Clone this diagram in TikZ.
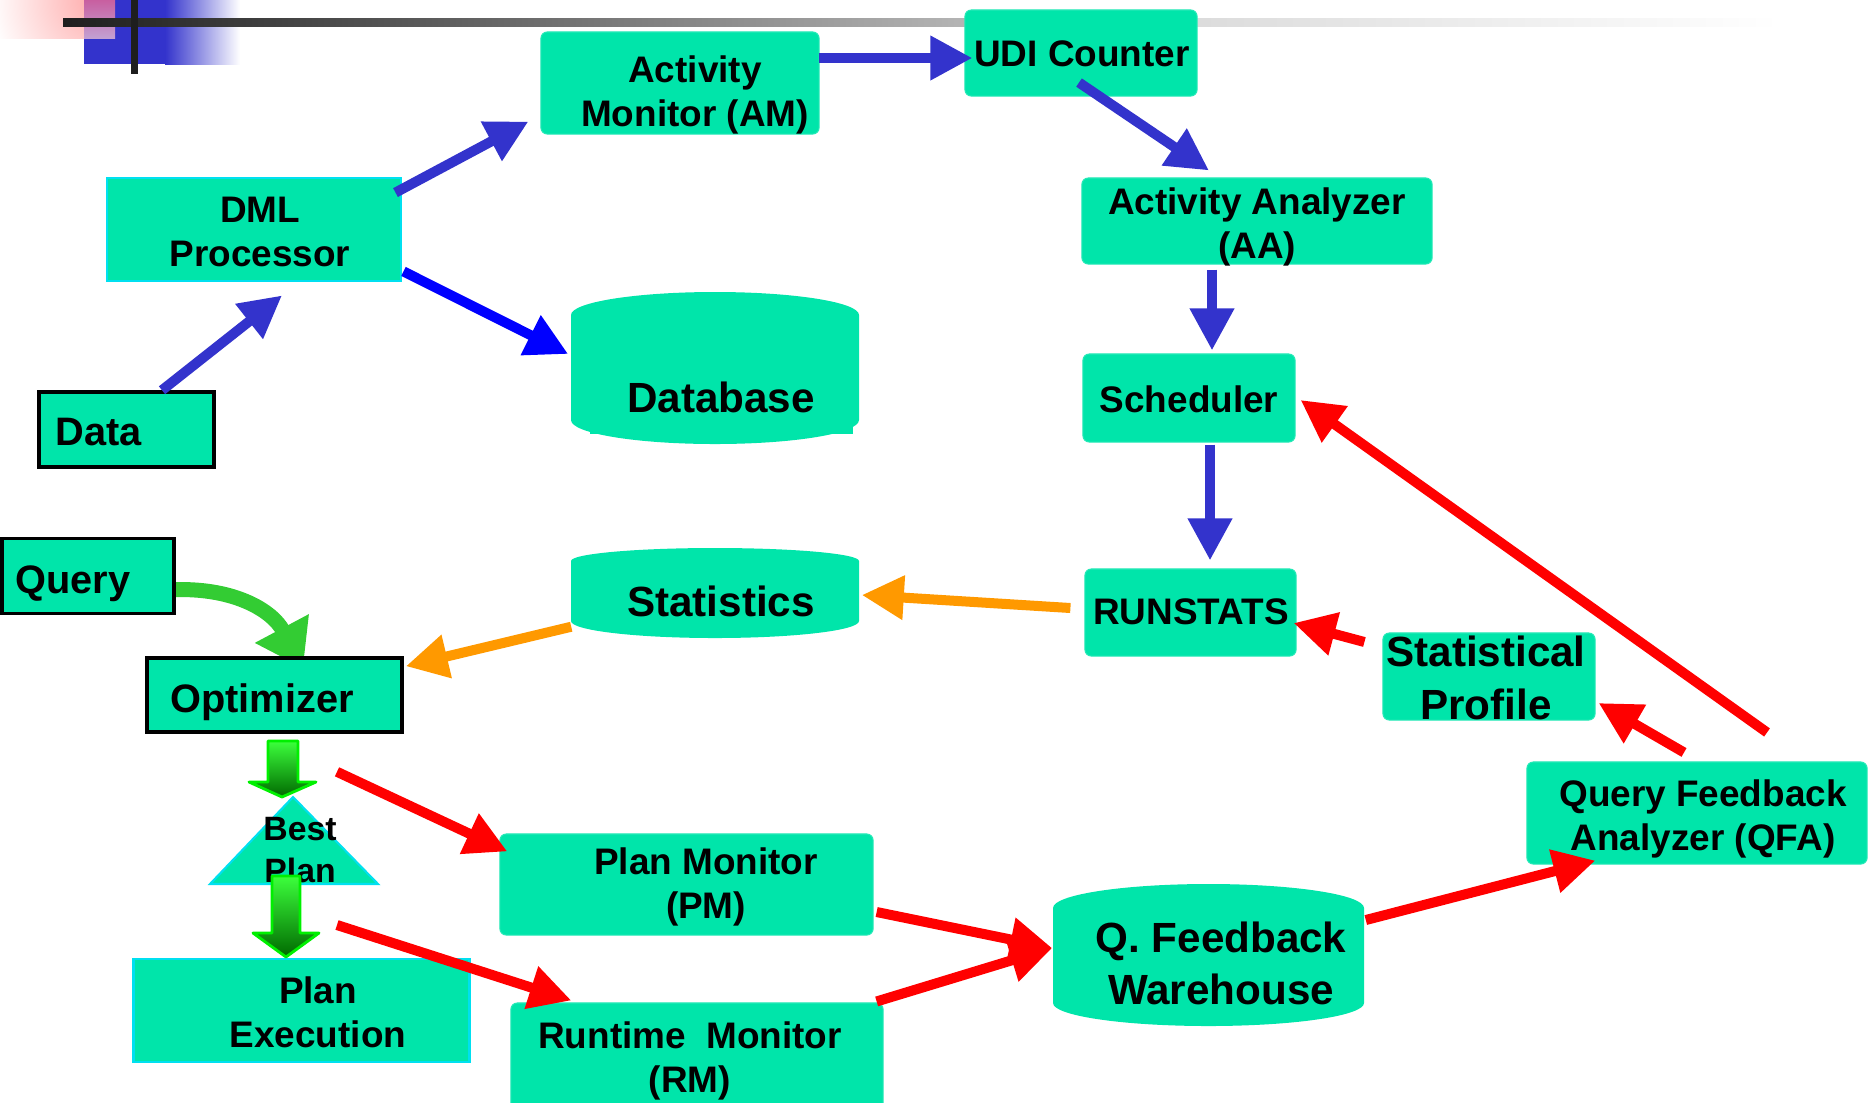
\documentclass[tikz,border=0pt]{standalone}
\usepackage{fontspec}
\setmainfont{Liberation Sans}
\usetikzlibrary{arrows.meta}
\pgfdeclarelayer{background}
\pgfsetlayers{background,main}

\definecolor{boxteal}{HTML}{00E5AA}
\definecolor{rimcyan}{HTML}{00E0F0}
\definecolor{arrowblue}{HTML}{3333CC}
\definecolor{pureblue}{HTML}{0000FF}
\definecolor{arroworange}{HTML}{FF9900}
\definecolor{arrowred}{HTML}{FF0000}
\definecolor{curvegreen}{HTML}{33CC33}
\definecolor{barblack}{HTML}{1E1E1E}
\definecolor{barlight}{HTML}{DCDCDC}
\definecolor{cornerpink}{HTML}{FFA8A8}

\begin{document}
\begin{tikzpicture}[x=0.01cm,y=-0.01cm,
  roundbox/.style={fill=boxteal, draw=boxteal!85!white, line width=0.3pt,
    rounded corners=1.8pt, inner sep=0pt},
  plainbox/.style={fill=boxteal, draw=rimcyan, line width=0.8pt, inner sep=0pt},
  blackbox/.style={fill=boxteal, draw=black, line width=1pt, inner sep=0pt},
  hull/.style={inner sep=0pt},
  lbl/.style={align=center, inner sep=0pt, font=\bfseries\fontsize{10.5}{12.6}\selectfont},
  midlbl/.style={align=center, inner sep=0pt, font=\bfseries\fontsize{11.3}{13.5}\selectfont},
  biglbl/.style={align=center, inner sep=0pt, font=\bfseries\fontsize{12}{14}\selectfont},
  bestlbl/.style={align=center, inner sep=0pt, font=\bfseries\fontsize{9.6}{11.7}\selectfont},
  flow/.style={line width=0.1cm, -{Triangle[length=0.42cm,width=0.42cm]}},
  blueflow/.style={flow, arrowblue},
  pureflow/.style={flow, pureblue},
  orangeflow/.style={flow, arroworange},
  redflow/.style={flow, arrowred},
  greenflow/.style={line width=0.15cm, curvegreen, -{Triangle[length=0.45cm,width=0.58cm]}},
  blockarrow/.style={top color={rgb,255:red,60;green,255;blue,60},
    bottom color={rgb,255:red,0;green,105;blue,0},
    draw={rgb,255:red,0;green,240;blue,0}, line width=0.8pt, line join=round},
]
\useasboundingbox (0,0) rectangle (1873,1102);

% ---------- boxes ----------
\node[roundbox, minimum width=2.78cm, minimum height=1.02cm] (am) at (680,83) {};
\node[roundbox, minimum width=2.32cm, minimum height=0.86cm] (udi) at (1081,53) {};
\node[plainbox, minimum width=2.94cm, minimum height=1.03cm] (dml) at (254,229.5) {};
\node[blackbox, minimum width=1.75cm, minimum height=0.75cm] (data) at (126.5,429.5) {};
\node[roundbox, minimum width=3.50cm, minimum height=0.86cm] (aa) at (1257,221) {};
\node[roundbox, minimum width=2.12cm, minimum height=0.88cm] (sched) at (1189,398) {};
\node[roundbox, minimum width=2.11cm, minimum height=0.87cm] (runst) at (1190.5,612.5) {};
\node[blackbox, minimum width=1.72cm, minimum height=0.75cm] (query) at (88,576) {};
\node[blackbox, minimum width=2.55cm, minimum height=0.74cm] (opt) at (274.5,695) {};
\node[plainbox, minimum width=3.35cm, minimum height=1.03cm] (pexec) at (301.5,1010.5) {};
\node[roundbox, minimum width=3.73cm, minimum height=1.01cm] (pm) at (686.5,884.5) {};
\node[roundbox, minimum width=3.72cm, minimum height=1.12cm] (rm) at (697,1059) {};
\node[roundbox, minimum width=2.12cm, minimum height=0.87cm] (sprof) at (1489,676.5) {};
\node[roundbox, minimum width=3.40cm, minimum height=1.02cm] (qfa) at (1697,813) {};

% ---------- storage drums ----------
\fill[boxteal] (571,315) arc[start angle=180, end angle=360, x radius=144, y radius=23]
  -- (859,420) arc[start angle=0, end angle=180, x radius=144, y radius=24] -- cycle;
\fill[boxteal] (590,420) rectangle (853,434);
\node[hull, minimum width=2.88cm, minimum height=1.53cm] (db) at (715,367.5) {};
\fill[boxteal] (571,561) arc[start angle=180, end angle=360, x radius=144, y radius=13]
  -- (859,621) arc[start angle=0, end angle=180, x radius=144, y radius=17] -- cycle;
\node[hull, minimum width=2.88cm, minimum height=0.90cm] (stats) at (715,593) {};
\fill[boxteal] (1053,908) arc[start angle=180, end angle=360, x radius=155.5, y radius=24]
  -- (1364,1003) arc[start angle=0, end angle=180, x radius=155.5, y radius=23] -- cycle;
\node[hull, minimum width=3.11cm, minimum height=1.42cm] (qfw) at (1208.5,955) {};

% ---------- best plan triangle ----------
\filldraw[fill=boxteal, draw=rimcyan, line width=0.6pt]
  (293,797) coordinate (bestapex) -- (378,884) coordinate (bestright)
  -- (210,884) coordinate (bestleft) -- cycle;

% ---------- labels ----------
\node[lbl] (am-t) at (695,95) {Activity\\Monitor (AM)};
\node[lbl] (udi-t) at (1082,54) {UDI Counter};
\node[lbl] (dml-t) at (260,232) {DML\\Processor};
\node[biglbl] (db-t) at (721,397) {Database};
\node[midlbl] (data-t) at (99,432) {Data};
\node[lbl] (aa-t) at (1257,227) {Activity Analyzer\\(AA)};
\node[lbl] (sched-t) at (1189,399) {Scheduler};
\node[lbl] (runst-t) at (1191,612) {RUNSTATS};
\node[biglbl] (stats-t) at (721,601) {Statistics};
\node[midlbl] (query-t) at (73,584) {Query};
\node[midlbl] (opt-t) at (262,702) {Optimizer};
\node[bestlbl] (best-t) at (300,850) {Best\\Plan};
\node[lbl] (pexec-t) at (318,1012) {Plan\\Execution};
\node[lbl] (pm-t) at (706,887) {Plan Monitor\\(PM)};
\node[lbl] (rm-t) at (690,1061) {Runtime~ Monitor\\(RM)};
\node[biglbl, font=\bfseries\fontsize{12}{15}\selectfont] (qfw-t) at (1221,963.5) {Q. Feedback\\Warehouse};
\node[biglbl, font=\bfseries\fontsize{12}{15}\selectfont] (sprof-t) at (1486,678) {Statistical\\Profile};
\node[lbl] (qfa-t) at (1703,819) {Query Feedback\\Analyzer (QFA)};

% ---------- heading ornament and curved query arrow (behind the boxes) ----------
\begin{pgfonlayer}{background}
  \begin{scope}
    \clip (0,0) rectangle (115,38);
    \shade[inner color=cornerpink, outer color=white] (100,0) circle[radius=110];
  \end{scope}
  \fill[arrowblue] (84,0) rectangle (165,64);
  \shade[left color=arrowblue, right color=white] (165,0) rectangle (240,64);
  \shade[top color={rgb,255:red,200;green,95;blue,160},
         bottom color={rgb,255:red,195;green,160;blue,210}] (84,0) rectangle (115,38);
  \shade[left color=barblack, right color=barlight] (63,18) rectangle (1202,26);
  \shade[left color=barlight, right color=white] (1202,18) rectangle (1780,26);
  \fill[barblack] (131,0) rectangle (138,74);

  \draw[greenflow] ([shift={(-8,14)}]query.east)
    .. controls (232,586) and (272,610) .. ([shift={(28.5,12)}]opt.north);
\end{pgfonlayer}

% ---------- plan hand-off block arrows ----------
\shadedraw[blockarrow] (268,741) -- (298,741) -- (298,782) -- (316,782)
  -- (282,797) -- (249,782) -- (268,782) -- cycle;
\shadedraw[blockarrow] (272,876) -- (300,876) -- (300,933) -- (319,933)
  -- (286,957) -- (253,933) -- (272,933) -- cycle;

% ---------- update path (blue) ----------
\draw[blueflow] ([shift={(-7,16)}]dml.north east) -- ([shift={(-12,-13)}]am.south west);
\draw[pureflow] ([shift={(1,-11)}]dml.south east) -- ([shift={(-2,-13.5)}]db.west);
\draw[blueflow] ([shift={(35.5,0)}]data.north) -- ([shift={(28,13)}]dml.south);
\draw[blueflow] ([shift={(-1,-25)}]am.east) -- ([shift={(8,5)}]udi.west);
\draw[blueflow] ([shift={(-2,-14)}]udi.south) -- ([shift={(-48,-7)}]aa.north);
\draw[blueflow] ([shift={(-45,5)}]aa.south) -- ([shift={(23,-3)}]sched.north);
\draw[blueflow] ([shift={(21,2)}]sched.south) -- ([shift={(19.5,-8)}]runst.north);

% ---------- statistics path (orange) ----------
\draw[orangeflow] ([shift={(-14,-4.5)}]runst.west) -- ([shift={(2,2)}]stats.east);
\draw[orangeflow] ([shift={(1,-12)}]stats.south west) -- ([shift={(2,10)}]opt.north east);

% ---------- feedback path (red) ----------
\draw[redflow] ([shift={(62.5,38)}]opt.south) -- ([shift={(8,18)}]pm.north west);
\draw[redflow] ([shift={(-41,41)}]bestright) -- ([shift={(61,-2)}]rm.north west);
\draw[redflow] ([shift={(3,27.5)}]pm.east) -- ([shift={(0,-7)}]qfw.west);
\draw[redflow] ([shift={(-7,-1)}]rm.north east) -- ([shift={(0,-7)}]qfw.west);
\draw[redflow] ([shift={(1,-35)}]qfw.east) -- ([shift={(69,-4)}]qfa.south west);
\draw[redflow] ([shift={(-13,-9)}]qfa.north) -- ([shift={(3,26.5)}]sprof.east);
\draw[redflow] ([shift={(70,-29)}]qfa.north) -- ([shift={(5,2)}]sched.east);
\draw[redflow] ([shift={(-18,-34.5)}]sprof.west) -- ([shift={(-3,10.5)}]runst.east);
\end{tikzpicture}
\end{document}
